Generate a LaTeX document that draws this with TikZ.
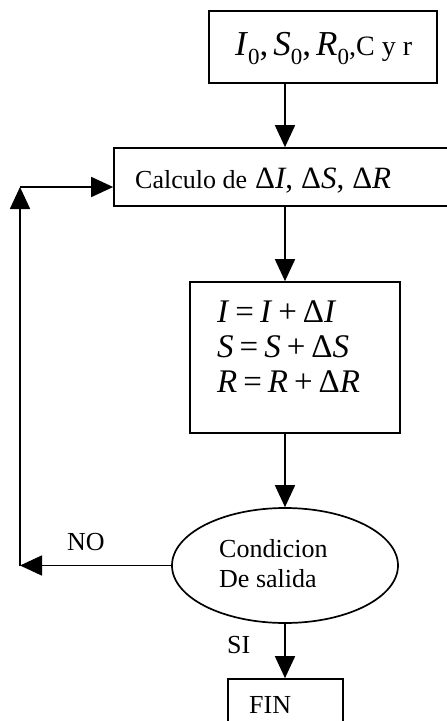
\documentclass[tikz,border=0pt]{standalone}
\usepackage{fontspec}
\setmainfont{Liberation Serif}
\usetikzlibrary{arrows.meta,shapes.geometric}
\newcommand\zsub[1]{\raisebox{-9pt}{\fontsize{23}{23}\selectfont #1}}
\newcommand\bigvar[1]{{\fontsize{35}{40}\selectfont\textit{#1}}}
\newcommand\bigcomma{{\fontsize{35}{40}\selectfont,\hspace{5pt}}}
\newcommand\eqsp{\hspace{6pt}}
\begin{document}
\begin{tikzpicture}[x=1pt,y=-1pt,
  box/.style={draw,line width=1.7pt,rectangle,inner sep=0},
  arr/.style={line width=1.7pt,-{Triangle[length=22pt,width=20pt]}},
  lbl/.style={inner sep=0,anchor=base west,font=\fontsize{26}{30}\selectfont},
  eq/.style={inner sep=0,anchor=base west,font=\fontsize{33}{35}\selectfont},
]
\useasboundingbox (0,0) rectangle (447,721);
\clip (0,0) rectangle (447,721);
% boxes
\node[box,minimum width=228pt,minimum height=72pt] (top) at (323,47) {};
\node[box,minimum width=356pt,minimum height=58pt] (calc) at (292,177) {};
\node[box,minimum width=210pt,minimum height=151pt] (mid) at (295,357.5) {};
\node[draw,ellipse,line width=1.7pt,minimum width=226pt,minimum height=115pt,inner sep=0] (cond) at (285,565.5) {};
\node[box,minimum width=115pt,minimum height=70pt] (fin) at (285.5,714) {};
% texts
\node[lbl] (toptext) at (235,55) {\bigvar{I}\zsub{0}\bigcomma\bigvar{S}\zsub{0}\bigcomma\bigvar{R}\zsub{0}{\fontsize{28}{30}\selectfont,C\hspace{7pt}y\hspace{7pt}r}};
\node[lbl] (calctext) at (135,188) {Calculo de\hspace{8pt}{\fontsize{31}{34}\selectfont Δ\textit{I},\hspace{8pt}Δ\textit{S},\hspace{8pt}Δ\textit{R}}};
\node[eq] (m1) at (217,322) {\textit{I}\eqsp=\eqsp\textit{I}\eqsp+\eqsp Δ\textit{I}};
\node[eq] (m2) at (217,357) {\textit{S}\eqsp=\eqsp\textit{S}\eqsp+\eqsp Δ\textit{S}};
\node[eq] (m3) at (217,392) {\textit{R}\eqsp=\eqsp\textit{R}\eqsp+\eqsp Δ\textit{R}};
\node[lbl] (c1) at (219,557) {Condicion};
\node[lbl] (c2) at (219,587) {De salida};
\node[lbl] (fintext) at (249,713) {FIN};
\node[lbl] (no) at (67,550) {NO};
\node[lbl] (si) at (227,653) {SI};
% connectors
\coordinate (ax) at (285,0);
\coordinate (lb) at (20,565.5);
\coordinate (lt) at (20,187);
\draw[arr] (top.south -| ax) -- (calc.north -| ax);
\draw[arr] (calc.south -| ax) -- (mid.north -| ax);
\draw[arr] (mid.south -| ax) -- (cond.north);
\draw[arr] (cond.south) -- (fin.north -| ax);
\draw[arr] (cond.west) -- (lb);
\draw[arr] (lb) -- (lt);
\draw[arr] (lt) -- (calc.west |- lt);
\end{tikzpicture}
\end{document}
